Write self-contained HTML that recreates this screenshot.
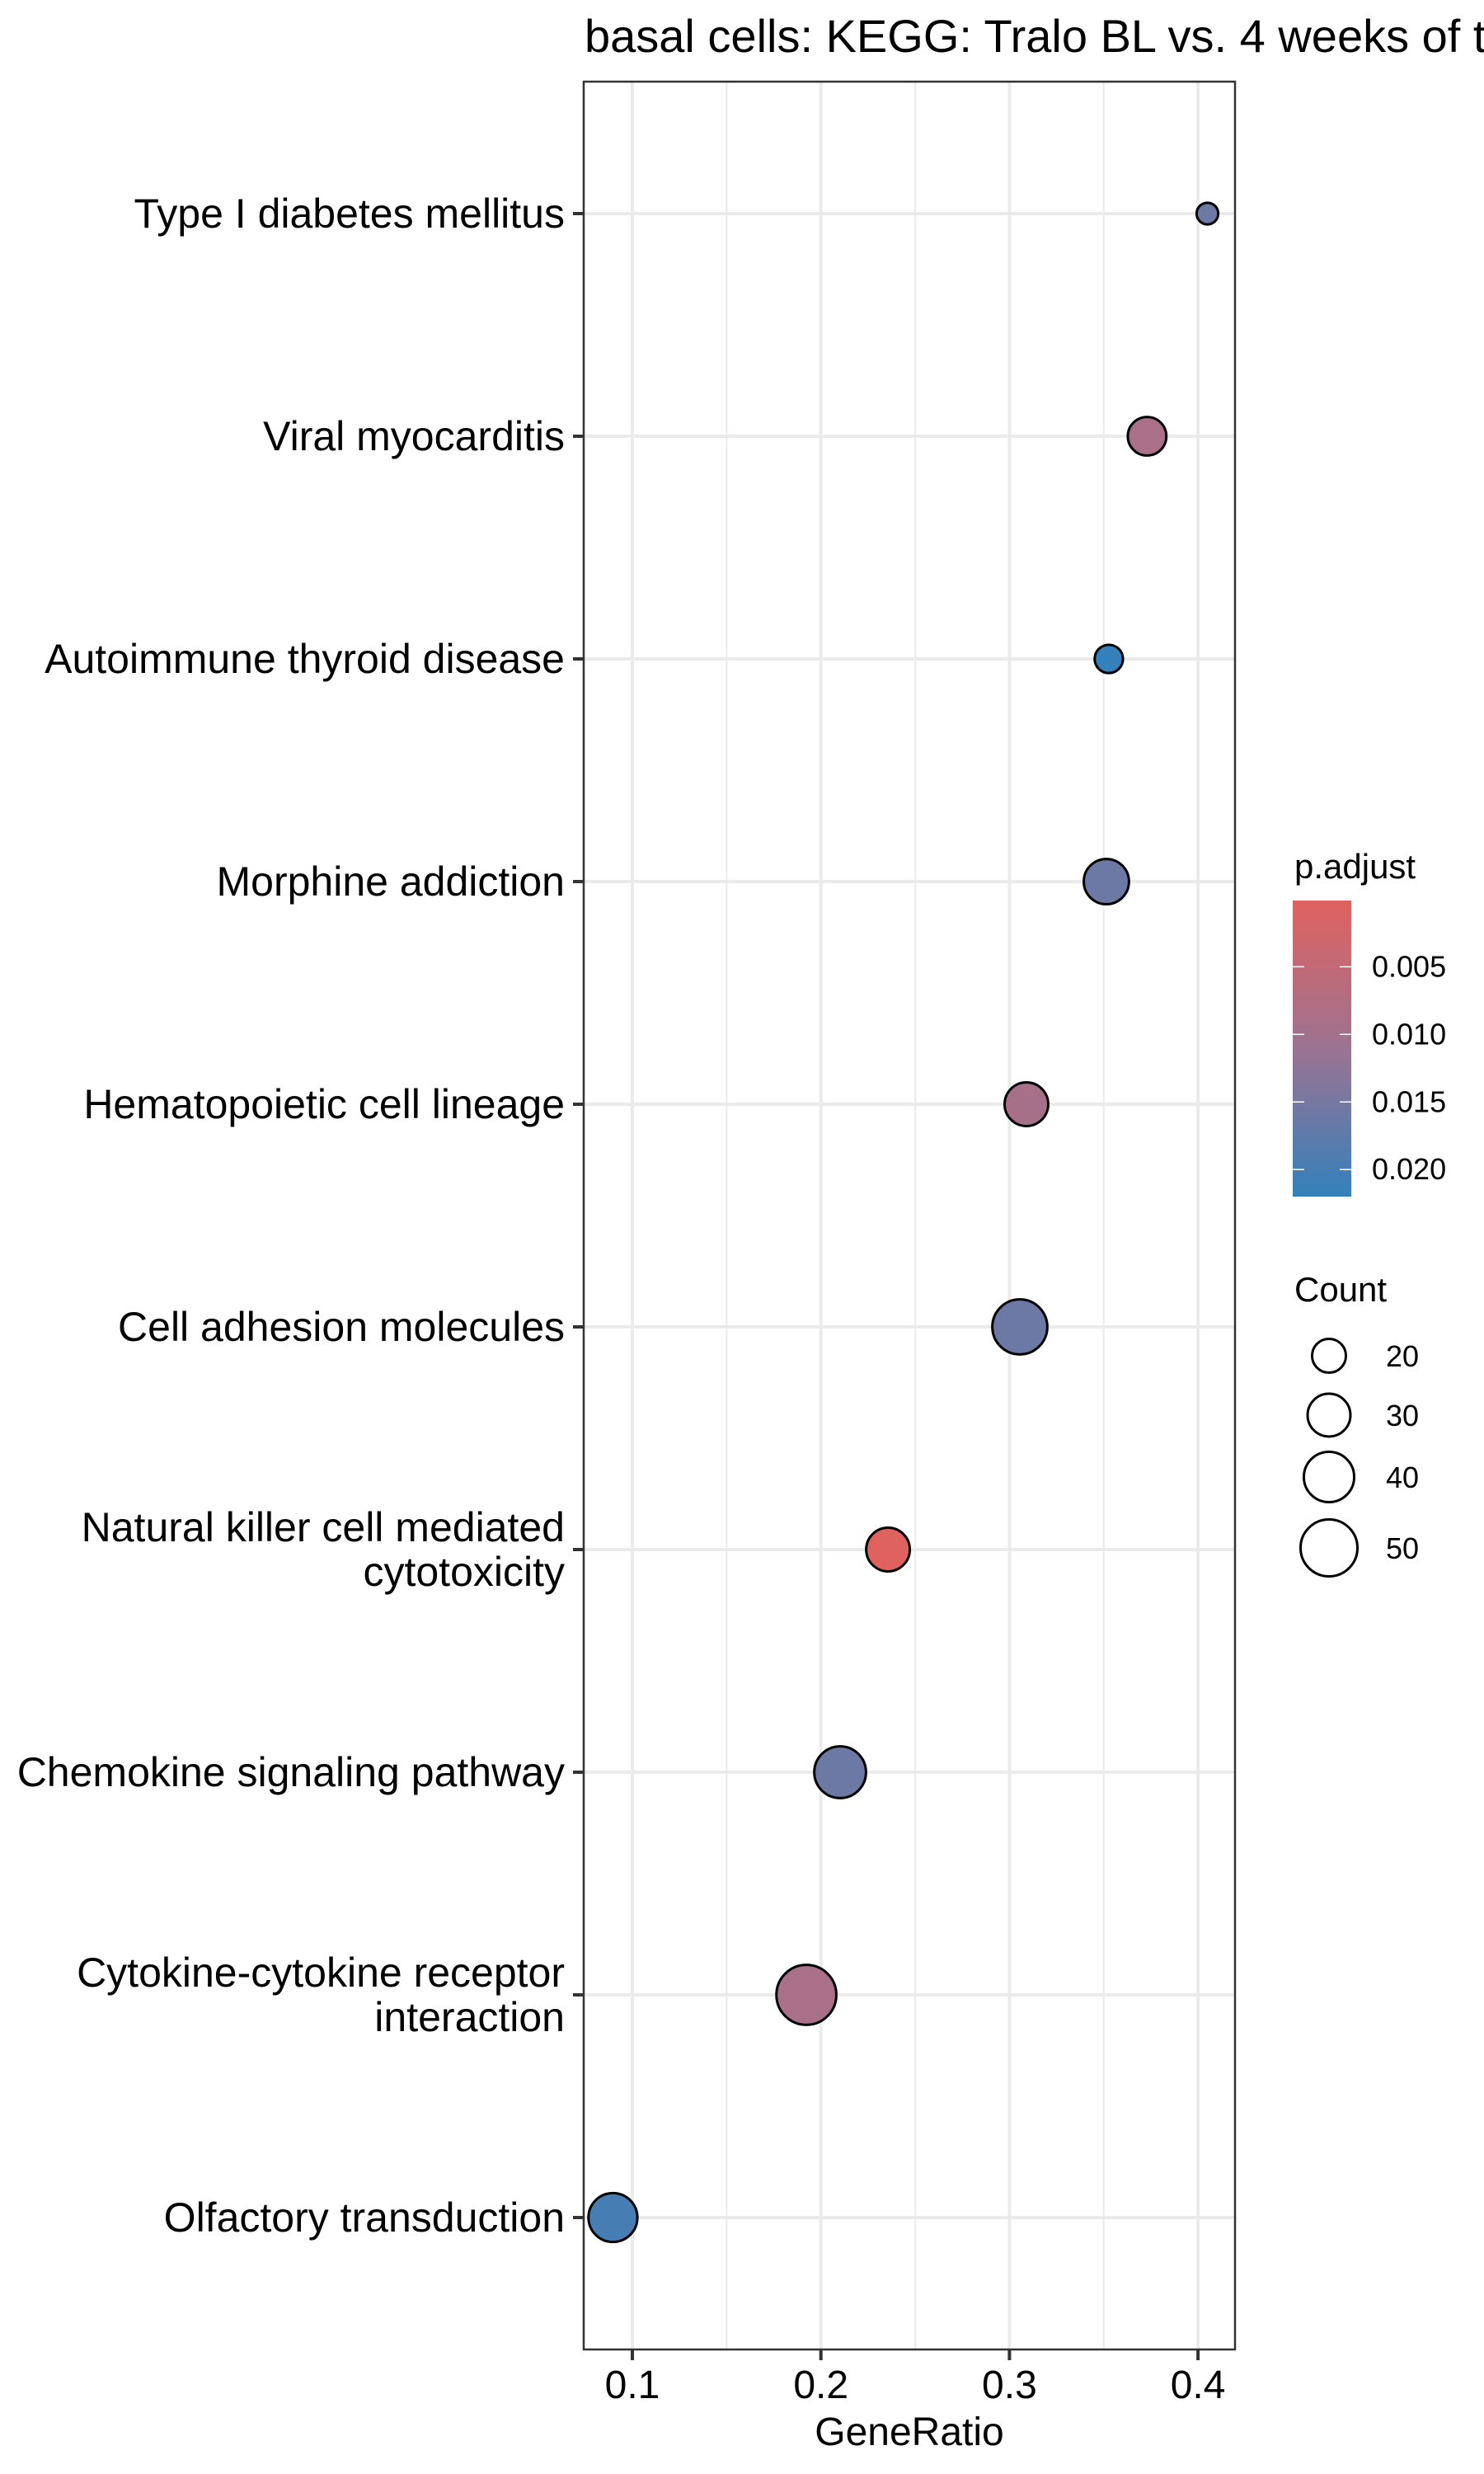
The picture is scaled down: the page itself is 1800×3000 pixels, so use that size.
<!DOCTYPE html>
<html><head><meta charset="utf-8"><style>
html,body{margin:0;padding:0;background:#fff;}
svg{display:block;font-family:"Liberation Sans",Arial,sans-serif;}
</style></head><body>
<svg id="chart" width="1800" height="3000" viewBox="0 0 1800 3000" xmlns="http://www.w3.org/2000/svg">
<rect x="0" y="0" width="1800" height="3000" fill="#fff"/>
<text x="709" y="63" font-size="56" fill="#000">basal cells: KEGG: Tralo BL vs. 4 weeks of treatment</text>
<g id="grid"></g>
<g id="marks"></g>
<rect x="708" y="99" width="790" height="2750" fill="none" stroke="#333" stroke-width="2.5"/>
<g id="axes"></g>
<text x="1103" y="2965" font-size="48" text-anchor="middle" fill="#000">GeneRatio</text>
<defs>
<linearGradient id="pgrad" x1="0" y1="0" x2="0" y2="1">
<stop offset="0" stop-color="#E0625F"/>
<stop offset="0.5" stop-color="#9C7392"/>
<stop offset="1" stop-color="#3380BC"/>
</linearGradient>
</defs>
<g id="legend">
<text x="1570" y="1065" font-size="42" fill="#000">p.adjust</text>
<rect x="1568" y="1092" width="71" height="359" fill="url(#pgrad)"/>
<text x="1570" y="1578" font-size="42" fill="#000">Count</text>
</g>
</svg>
<script>
const categories = ["Type I diabetes mellitus","Viral myocarditis","Autoimmune thyroid disease","Morphine addiction","Hematopoietic cell lineage","Cell adhesion molecules","Natural killer cell mediated|cytotoxicity","Chemokine signaling pathway","Cytokine-cytokine receptor|interaction","Olfactory transduction"];
const geneRatio = [0.405,0.373,0.3527,0.3514,0.309,0.3055,0.2356,0.2102,0.1923,0.0897];
const counts = [10,25,15,33,31,47,31,42,55,38];
const pAdjust = [0.016,0.009,0.022,0.016,0.0092,0.016,0.0001,0.016,0.0088,0.020];
const xTicks = [0.1,0.2,0.3,0.4];
const xTickLabels = ["0.1","0.2","0.3","0.4"];
const xMinor = [0.15,0.25,0.35];
const pTicks = [0.005,0.010,0.015,0.020];
const pTickLabels = ["0.005","0.010","0.015","0.020"];
const countBreaks = [20,30,40,50];

const NS = "http://www.w3.org/2000/svg";
const PL = 708, PR = 1498, PT = 99, PB = 2849;
const xScale = v => 767 + (v - 0.1) * 2287;
const yScale = i => 259 + i * 270;
const rScale = c => Math.sqrt(Math.max(20, -57 + 27.07 * c));
const pMin = 0.0001, pMax = 0.0220;
const pY = p => 1092 + (p - pMin) / (pMax - pMin) * 359;
function lerp(a,b,t){return a+(b-a)*t;}
const cStops = [[224,98,95],[156,115,146],[51,128,188]];
function pColor(p){
  let t = Math.min(1, Math.max(0, (p - pMin) / (pMax - pMin)));
  let a, b, u;
  if (t < 0.5) { a = cStops[0]; b = cStops[1]; u = t / 0.5; } else { a = cStops[1]; b = cStops[2]; u = (t - 0.5) / 0.5; }
  return "rgb(" + [0,1,2].map(k => Math.round(lerp(a[k], b[k], u))).join(",") + ")";
}
function mk(tag, attrs, parent){
  const e = document.createElementNS(NS, tag);
  for (const k in attrs) e.setAttribute(k, attrs[k]);
  parent.appendChild(e);
  return e;
}
const grid = document.getElementById("grid");
const marks = document.getElementById("marks");
const axes = document.getElementById("axes");
const legend = document.getElementById("legend");

xMinor.forEach(v => {
  const l = mk("line", {x1:xScale(v), x2:xScale(v), y1:PT, y2:PB, stroke:"#ebebeb", "stroke-width":2}, grid);
  
  
});
xTicks.forEach((v, i) => {
  const l = mk("line", {x1:xScale(v), x2:xScale(v), y1:PT, y2:PB, stroke:"#ebebeb", "stroke-width":4}, grid);
  
  
  const t = mk("line", {x1:xScale(v), x2:xScale(v), y1:PB, y2:PB + 13, stroke:"#333", "stroke-width":4}, axes);
  
  
  const tx = mk("text", {x:xScale(v), y:2908, "font-size":48, "text-anchor":"middle", fill:"#000"}, axes);
  tx.textContent = xTickLabels[i];
  
  
});
categories.forEach((c, i) => {
  const y = yScale(i);
  const l = mk("line", {x1:PL, x2:PR, y1:y, y2:y, stroke:"#ebebeb", "stroke-width":4}, grid);
  
  
  const t = mk("line", {x1:PL - 13, x2:PL, y1:y, y2:y, stroke:"#333", "stroke-width":4}, axes);
  
  
  const lines = c.split("|");
  const tx = mk("text", {x:685, "font-size":50, "text-anchor":"end", fill:"#000"}, axes);
  
  
  if (lines.length === 1) {
    tx.setAttribute("y", y + 17);
    tx.textContent = c;
  } else {
    lines.forEach((s, k) => {
      const ts = mk("tspan", {x:685, y: y - 10 + k * 54}, tx);
      ts.textContent = s;
    });
  }
  const dot = mk("circle", {cx:xScale(geneRatio[i]), cy:y, r:rScale(counts[i]) - 1.5, fill:pColor(pAdjust[i]), stroke:"#000", "stroke-width":3}, marks);
  
  
});
pTicks.forEach((p, i) => {
  const y = pY(p);
  const a = mk("line", {x1:1568, x2:1582, y1:y, y2:y, stroke:"#fff", "stroke-width":1.5}, legend);
  
  
  const b = mk("line", {x1:1625, x2:1639, y1:y, y2:y, stroke:"#fff", "stroke-width":1.5}, legend);
  
  
  const t = mk("text", {x:1664, y:y + 12, "font-size":36, fill:"#000"}, legend);
  t.textContent = pTickLabels[i];
  
  
});
const sizeY = [1644, 1716, 1791, 1877];
countBreaks.forEach((c, i) => {
  const ci = mk("circle", {cx:1612, cy:sizeY[i], r:rScale(c) - 1.5, fill:"none", stroke:"#000", "stroke-width":3}, legend);
  
  
  const t = mk("text", {x:1681, y:sizeY[i] + 13, "font-size":36, fill:"#000"}, legend);
  t.textContent = String(c);
  
  
});
</script>
</body></html>
